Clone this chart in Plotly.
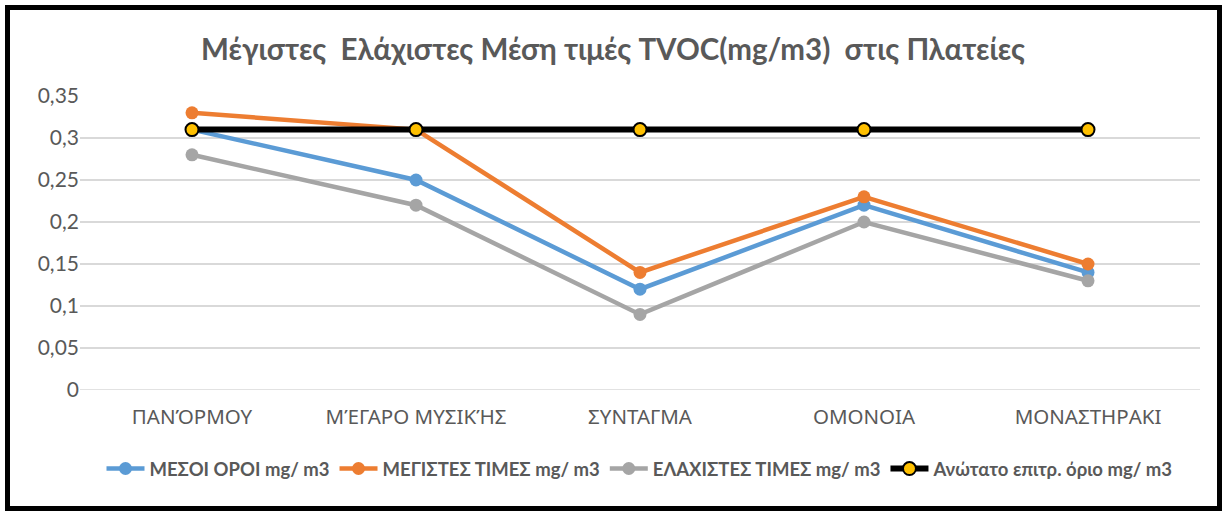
import plotly.graph_objects as go

categories = ["ΠΑΝΌΡΜΟΥ", "ΜΈΓΑΡΟ ΜΥΣΙΚΉΣ", "ΣΥΝΤΑΓΜΑ", "ΟΜΟΝΟΙΑ", "ΜΟΝΑΣΤΗΡΑΚΙ"]
mean_vals = [0.31, 0.25, 0.12, 0.22, 0.14]
max_vals = [0.33, 0.31, 0.14, 0.23, 0.15]
min_vals = [0.28, 0.22, 0.09, 0.20, 0.13]
limit_vals = [0.31, 0.31, 0.31, 0.31, 0.31]
y_ticks = [0, 0.05, 0.1, 0.15, 0.2, 0.25, 0.3, 0.35]
y_tick_labels = ["0", "0,05", "0,1", "0,15", "0,2", "0,25", "0,3", "0,35"]

W, H = 1226, 514
L, R, T, B = 80, 26, 96, 124
pw, ph = W - L - R, H - T - B

def px2x(px):
    return (px - L) / pw

def py2y(py):
    return (H - B - py) / ph

FONT = "Lato"
GREY = "#595959"

fig = go.Figure()
fig.add_trace(go.Scatter(x=categories, y=mean_vals, mode="lines+markers",
                         name="ΜΕΣΟΙ ΟΡΟΙ mg/ m3",
                         line=dict(color="#5B9BD5", width=4.5),
                         marker=dict(size=13, color="#5B9BD5")))
fig.add_trace(go.Scatter(x=categories, y=max_vals, mode="lines+markers",
                         name="ΜΕΓΙΣΤΕΣ ΤΙΜΕΣ mg/ m3",
                         line=dict(color="#ED7D31", width=4.5),
                         marker=dict(size=13, color="#ED7D31")))
fig.add_trace(go.Scatter(x=categories, y=min_vals, mode="lines+markers",
                         name="ΕΛΑΧΙΣΤΕΣ ΤΙΜΕΣ mg/ m3",
                         line=dict(color="#A5A5A5", width=4.5),
                         marker=dict(size=13, color="#A5A5A5")))
fig.add_trace(go.Scatter(x=categories, y=limit_vals, mode="lines+markers",
                         name="Ανώτατο επιτρ. όριο mg/ m3",
                         line=dict(color="#000000", width=6),
                         marker=dict(size=13, color="#FFC000",
                                     line=dict(color="#000000", width=2))))

fig.update_layout(
    width=W, height=H,
    margin=dict(l=L, r=R, t=T, b=B, autoexpand=False),
    paper_bgcolor="white", plot_bgcolor="white",
    font=dict(family=FONT, color=GREY),
    title=dict(text="Μέγιστες\u00a0 Ελάχιστες Μέση τιμές TVOC(mg/m3)\u00a0 στις Πλατείες",
               x=0.5, xanchor="center", y=1 - 50 / H, yanchor="middle",
               font=dict(family=FONT, size=29.5, color=GREY, weight="bold")),
    showlegend=True,
    legend=dict(orientation="h", x=0.5, xanchor="center",
                y=py2y(469), yanchor="middle",
                font=dict(family=FONT, size=18.5, color=GREY, weight="bold"),
                itemwidth=38, tracegroupgap=0,
                bgcolor="rgba(0,0,0,0)"),
    xaxis=dict(type="category", showgrid=False, showline=False, zeroline=False,
               ticks="", ticklabelstandoff=12,
               tickfont=dict(family="Noto Sans", size=20.5, color=GREY),
               range=[-0.5, 4.5]),
    yaxis=dict(range=[0, 0.35], tickvals=y_ticks, ticktext=y_tick_labels,
               showgrid=True, gridcolor="#D9D9D9", gridwidth=1.5,
               zeroline=False, showline=False, ticks="",
               tickfont=dict(family=FONT, size=21, color=GREY)),
    shapes=[dict(type="line", xref="paper", yref="y", x0=0, x1=1, y0=0, y1=0,
                 line=dict(color="#D9D9D9", width=1.5), layer="below"),
            dict(type="rect", xref="paper", yref="paper",
                 x0=px2x(7.5), x1=px2x(1219.5), y0=py2y(508.5), y1=py2y(7.5),
                 line=dict(color="black", width=5))],
)

fig.write_html("out.html", config={"displayModeBar": False},
               post_script="document.body.style.margin='0px';document.body.style.overflow='hidden';")
